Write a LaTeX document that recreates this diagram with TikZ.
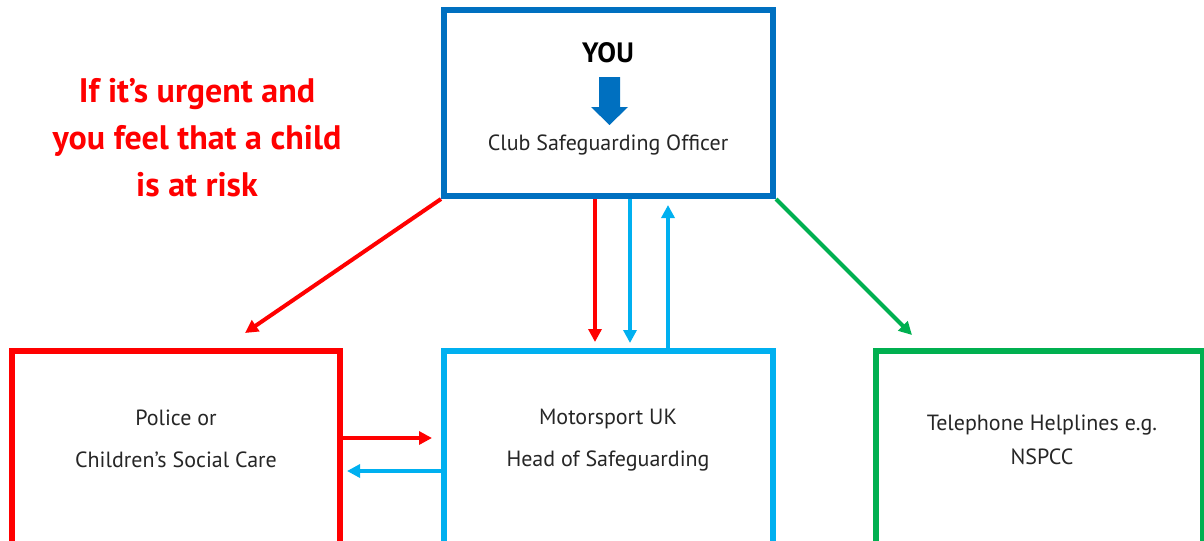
\documentclass[tikz,border=0pt]{standalone}
\usepackage{fontspec}
\setmainfont{PT Sans}
\usepackage{tikz}
\usetikzlibrary{arrows.meta,calc,positioning}
\definecolor{youblue}{HTML}{0070C0}
\definecolor{mukblue}{HTML}{00B0F0}
\definecolor{urgentred}{HTML}{FF0000}
\definecolor{helpgreen}{HTML}{00B050}
\tikzset{
	box/.style={draw=#1,line width=4.5pt,fill=white,minimum height=187.5pt},
	boxtext/.style={align=center,font=\fontsize{16.5}{32}\selectfont,text=black!85},
	link/.style={line width=3pt,draw=#1,-{Triangle[length=9.75pt,width=9.75pt]}}
}

\begin{document}
\begin{tikzpicture}[x=0.75pt,y=-0.75pt]
				\useasboundingbox (0,0) rectangle (1204,540);
				\clip (0,0) rectangle (1204,540);
				\node[box=youblue,minimum width=246.75pt,minimum height=139.5pt] (cso) at (608.5,103) {};
				\node[box=urgentred,minimum width=246pt] (police) at (176,476) {};
				\node[box=mukblue,minimum width=246.75pt] (mss) at (608.5,476) {};
				\node[box=helpgreen,minimum width=245.25pt] (help) at (1039.5,476) {};
				\node[font=\bfseries\fontsize{21}{24}\selectfont] (you) at (608,53) {YOU};
				\fill[youblue] (599,77) -- (620,77) -- (620,107) -- (628,107) -- (609.5,125) -- (591,107) -- (599,107) -- cycle;
				\node[boxtext] (csotxt) at (608,145) {Club Safeguarding Officer};
				\node[align=center,text=urgentred,font=\bfseries\fontsize{25.5}{35.25}\selectfont] (urgent) at (197,138) {If it’s urgent and\\you feel that a child\\is at risk};
				\node[boxtext] (policetxt) at (176,439) {Police or\\Children’s Social Care};
				\node[boxtext] (msstxt) at (608,440) {Motorsport UK\\Head of Safeguarding};
				\node[boxtext,font=\fontsize{16.5}{25.5}\selectfont] (helptxt) at (1042,440) {Telephone Helplines e.g.\\NSPCC};
				\coordinate (policein) at (245,333);
				\coordinate (helpin) at (912,335);
				\coordinate (redx) at (595,0);
				\coordinate (downx) at (630,0);
				\coordinate (upx) at (668,0);
				\coordinate (righty) at (0,438);
				\coordinate (lefty) at (0,471);
				\draw[link=urgentred] (cso.south west) to (policein);
				\draw[link=helpgreen] (cso.south east) to (helpin);
				\draw[link=urgentred,shorten >=4.5pt] (cso.south -| redx) to (mss.north -| redx);
				\draw[link=mukblue,shorten >=3.75pt] (cso.south -| downx) to (mss.north -| downx);
				\draw[link=mukblue,shorten >=4.5pt] (mss.north -| upx) to (cso.south -| upx);
				\draw[link=urgentred,shorten >=6.75pt] (police.east |- righty) to (mss.west |- righty);
				\draw[link=mukblue,shorten >=3pt] (mss.west |- lefty) to (police.east |- lefty);
	\end{tikzpicture}
\end{document}
